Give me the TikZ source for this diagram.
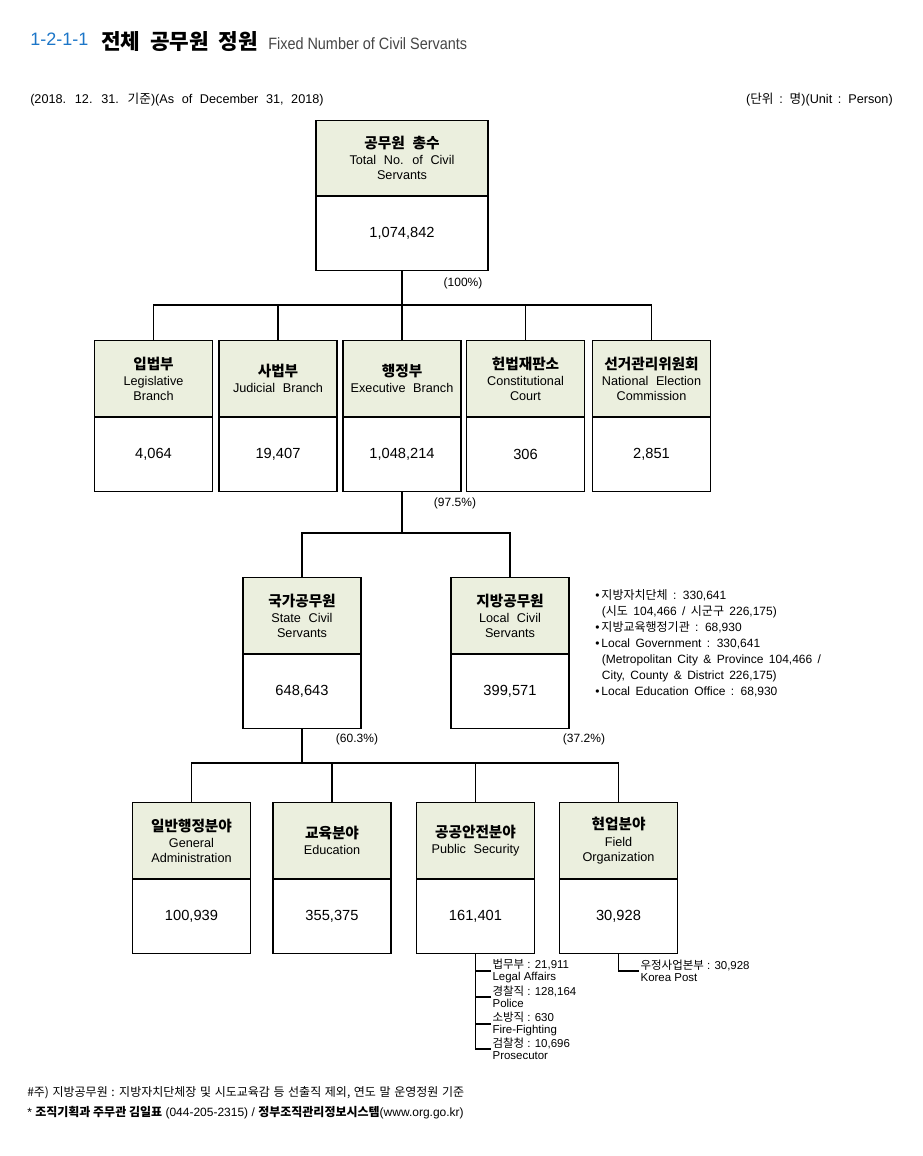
\documentclass[tikz,border=0pt]{standalone}
\usepackage{fontspec}
\setmainfont{Liberation Sans}
\newfontfamily\kr{Noto Sans CJK KR}
\newfontfamily\ttlfont[FakeStretch=0.88]{Liberation Sans}
\usetikzlibrary{positioning}
\definecolor{hdrfill}{RGB}{235,239,222}
\definecolor{ttlblue}{RGB}{28,118,200}
\definecolor{ttlgray}{RGB}{70,70,70}
\newcommand\K[1]{{\kr #1}}
\newcommand\hk[1]{{\kr\bfseries\fontsize{11}{12}\selectfont #1}\\[1pt]}
\newcommand\wsw{\spaceskip=0.6em\relax}
\newcommand\wsn{\spaceskip=0.45em\relax}
\newcommand\wsk{\spaceskip=0.3em\relax}
\tikzset{
  hdr/.style={draw, line width=0.9pt, fill=hdrfill, minimum width=88.5pt,
    minimum height=57pt, align=center, inner sep=1pt, anchor=north,
    font={\fontsize{9.5}{11.2}\selectfont\wsw}},
  val/.style={draw, line width=0.9pt, minimum width=88.5pt,
    minimum height=55.5pt, font=\fontsize{11}{13}\selectfont},
  pct/.style={font=\fontsize{9}{11}\selectfont, inner sep=0pt},
  lst/.style={anchor=west, align=left, inner xsep=1pt, inner ysep=0pt,
    font=\fontsize{8.6}{9}\selectfont},
  tree/.style={line width=0.9pt}
}
\begin{document}
\begin{tikzpicture}[x=0.75pt,y=-0.75pt]
\useasboundingbox[fill=white] (0,0) rectangle (922,1156);

\node (num) [anchor=base west, inner sep=0pt, text=ttlblue, font=\fontsize{13.5}{15}\selectfont] at (30,46) {1-2-1-1};
\node (ttl) [anchor=base west, inner sep=0pt, font={\kr\bfseries\fontsize{16}{18}\selectfont\wsn}] at (101,49.5) {전체 공무원 정원};
\node (sub) [anchor=base west, inner sep=0pt, text=ttlgray, font=\ttlfont\fontsize{12.3}{14}\selectfont] at (268,49.5) {Fixed Number of Civil Servants};

\node (date) [pct, anchor=west, font={\fontsize{9.5}{11}\selectfont\wsw}] at (30,100) {(2018. 12. 31. \K{기준})(As of December 31, 2018)};
\node (unit) [pct, anchor=east, font={\fontsize{9.5}{11}\selectfont\wsn}] at (893,100) {(\K{단위} : \K{명})(Unit : Person)};

\node (tot) [hdr, minimum width=129pt, minimum height=56.25pt] at (402,120) {\hk{공무원 총수}Total No. of Civil\\Servants};
\node (totv) [val, minimum width=129pt, below=0pt of tot] {1,074,842};

\node (leg) [hdr] at (153.5,340) {\hk{입법부}Legislative\\Branch};
\node (jud) [hdr] at (278,340) {\hk{사법부}Judicial Branch};
\node (exe) [hdr] at (402,340) {\hk{행정부}Executive Branch};
\node (con) [hdr] at (525.5,340) {\hk{헌법재판소}Constitutional\\Court};
\node (nec) [hdr] at (651.5,340) {\hk{선거관리위원회}National Election\\Commission};
\node (legv) [val, below=0pt of leg] {4,064};
\node (judv) [val, below=0pt of jud] {19,407};
\node (exev) [val, below=0pt of exe] {1,048,214};
\node (conv) [val, below=0pt of con] {306};
\node (necv) [val, below=0pt of nec] {2,851};

\node (sta) [hdr] at (302,577) {\hk{국가공무원}State Civil\\Servants};
\node (loc) [hdr] at (510,577) {\hk{지방공무원}Local Civil\\Servants};
\node (stav) [val, below=0pt of sta] {648,643};
\node (locv) [val, below=0pt of loc] {399,571};

\node (gen) [hdr] at (191.5,802) {\hk{일반행정분야}General\\Administration};
\node (edu) [hdr] at (332,802) {\hk{교육분야}Education};
\node (pub) [hdr] at (475.5,802) {\hk{공공안전분야}Public Security};
\node (fld) [hdr] at (618.5,802) {\hk{현업분야}Field\\Organization};
\node (genv) [val, below=0pt of gen] {100,939};
\node (eduv) [val, below=0pt of edu] {355,375};
\node (pubv) [val, below=0pt of pub] {161,401};
\node (fldv) [val, below=0pt of fld] {30,928};

\coordinate (j1) at (402,305);
\coordinate (j2) at (402,533);
\coordinate (j3) at (302,763);

\draw[tree] (totv.south) -- (j1);
\draw[tree] (leg.north) |- (j1) -| (nec.north);
\draw[tree] (jud.north) -- (jud.north |- j1);
\draw[tree] (j1) -- (exe.north);
\draw[tree] (con.north) -- (con.north |- j1);

\draw[tree] (exev.south) -- (j2);
\draw[tree] (sta.north) |- (j2) -| (loc.north);

\draw[tree] (stav.south) -- (j3);
\draw[tree] (gen.north) |- (j3) -| (fld.north);
\draw[tree] (edu.north) -- (edu.north |- j3);
\draw[tree] (pub.north) -- (pub.north |- j3);

\node (p100) [pct] at (463,283) {(100\%)};
\node (p975) [pct] at (455,503) {(97.5\%)};
\node (p603) [pct] at (357,739) {(60.3\%)};
\node (p372) [pct] at (584,739) {(37.2\%)};

\node (note) [anchor=north west, align=left, inner sep=0pt, font={\fontsize{9}{12}\selectfont\wsn}] at (595,589) {%
\textbullet\,\K{지방자치단체} : 330,641\\
\hspace*{5pt}(\K{시도} 104,466 / \K{시군구} 226,175)\\
\textbullet\,\K{지방교육행정기관} : 68,930\\
\textbullet\,Local Government : 330,641\\
\hspace*{5pt}(Metropolitan City \& Province 104,466 /\\
\hspace*{5pt}City, County \& District 226,175)\\
\textbullet\,Local Education Office : 68,930};

\node (law) [lst] at (491,971) {\K{법무부} : 21,911\\Legal Affairs};
\node (pol) [lst] at (491,997) {\K{경찰직} : 128,164\\Police};
\node (fir) [lst] at (491,1024) {\K{소방직} : 630\\Fire-Fighting};
\node (pro) [lst] at (491,1049) {\K{검찰청} : 10,696\\Prosecutor};
\node (post) [lst] at (639,971) {\K{우정사업본부} : 30,928\\Korea Post};

\draw[tree] (pubv.south) |- (law.west);
\draw[tree] (pubv.south) |- (pro.west);
\draw[tree] (pol.west) -- (pol.west -| pubv.south);
\draw[tree] (fir.west) -- (fir.west -| pubv.south);
\draw[tree] (fldv.south) |- (post.west);

\node (fn1) [anchor=west, inner sep=0pt, font={\kr\fontsize{9}{10}\selectfont\wsk}] at (27,1093) {\#주) 지방공무원 : 지방자치단체장 및 시도교육감 등 선출직 제외, 연도 말 운영정원 기준};
\node (fn2) [anchor=west, inner sep=0pt, font=\fontsize{9}{10}\selectfont] at (27,1113) {* {\kr\bfseries 조직기획과 주무관 김일표} (044-205-2315) / {\kr\bfseries 정부조직관리정보시스템}(www.org.go.kr)};
\end{tikzpicture}
\end{document}
